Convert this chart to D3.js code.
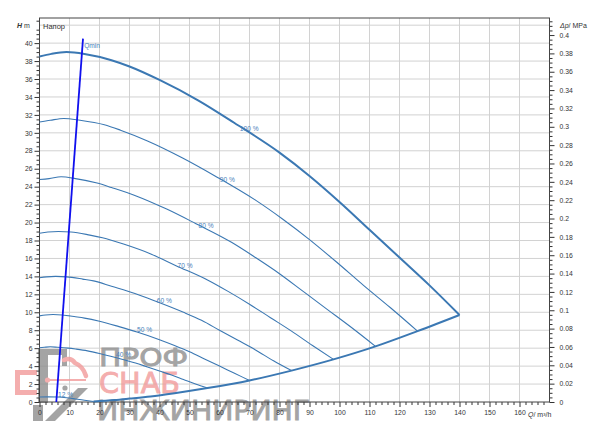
<!DOCTYPE html>
<html>
<head>
<meta charset="utf-8">
<script src="https://cdn.jsdelivr.net/npm/d3@7"></script>
<style>
  body { margin: 0; background: #fff; }
  svg { display: block; font-family: "Liberation Sans", Arial, sans-serif; }
</style>
</head>
<body>
<svg width="600" height="440"></svg>
<script>
// pump curves, Q in m3/h, H in m
const speedLabels = ['100 %', '90 %', '80 %', '70 %', '60 %', '50 %', '40 %', '12 %'];
const curve100 = [[0,38.5],[4,38.8],[9,39.0],[15,38.8],[24,38.1],[30,37.4],[40,35.9],[53,33.6],[65,31.1],[80,27.8],[90,25.2],[100,22.3],[110,19.2],[120,16.1],[130,13.0],[140,9.7]];
const curve90 = [[0,31.2],[3.6,31.4],[8.1,31.6],[13.5,31.4],[21.6,30.9],[27,30.3],[36,29.1],[47.7,27.2],[58.5,25.2],[72,22.5],[81,20.4],[90,18.1],[99,15.6],[108,13.0],[117,10.5],[126,7.9]];
const curve80 = [[0,24.8],[3.2,24.9],[7.2,25.1],[12,24.9],[19.2,24.4],[24,23.9],[32,23.0],[42.4,21.5],[52,19.9],[64,17.8],[72,16.1],[80,14.3],[88,12.3],[96,10.3],[104,8.3],[112,6.2]];
const curve70 = [[0,18.8],[2.8,18.95],[6.3,19.0],[10.5,18.95],[16.8,18.6],[21,18.3],[28,17.6],[37.1,16.5],[45.5,15.2],[56,13.6],[63,12.3],[70,10.9],[77,9.4],[84,7.9],[91,6.3],[98,4.75]];
const curve60 = [[0,13.85],[2.4,13.95],[5.4,14.0],[9,13.95],[14.4,13.7],[18,13.5],[24,12.9],[31.8,12.1],[39,11.2],[48,10.0],[54,9.1],[60,8.0],[66,6.9],[72,5.8],[78,4.6],[84,3.5]];
const curve50 = [[0,9.6],[2,9.7],[4.5,9.75],[7.5,9.7],[12,9.5],[15,9.35],[20,9.0],[26.5,8.4],[32.5,7.8],[40,6.95],[45,6.3],[50,5.6],[55,4.8],[60,4.0],[65,3.2],[70,2.4]];
const curve40 = [[0,6.05],[1.6,6.1],[3.6,6.15],[6,6.1],[9.6,6.0],[12,5.9],[16,5.7],[21.2,5.3],[26,4.9],[32,4.35],[36,3.9],[40,3.45],[44,3.0],[48,2.5],[52,2.0],[56,1.55]];
const curve12 = [[0,0.56],[3,0.57],[6,0.55],[9,0.47],[12,0.34],[15,0.2],[18,0.06]];
const boundary = [[18,0.06],[25,0.22],[30,0.38],[37,0.62],[45,0.98],[56,1.55],[70,2.4],[84,3.5],[98,4.75],[112,6.2],[126,7.9],[140,9.7]];
const qminLine = [[5.6,0],[14.5,40.5]];
// label anchors [Q, H]
const labelPos = [[69.9,30.5],[62.6,24.75],[55.5,19.65],[48.5,15.2],[41.6,11.26],[35.0,8.03],[28.0,5.24],[8.7,0.86]];

const xTicks = d3.range(0, 161, 10);
const yTicks = d3.range(0, 41, 2);
const pTicks = d3.range(0, 0.401, 0.02);

const svg = d3.select('svg');
const plotLeft = 39.5, plotRight = 549.5, plotTop = 18, plotBottom = 402;

const x = d3.scaleLinear().domain([0, 170]).range([plotLeft, plotRight]);
const y = d3.scaleLinear().domain([0, 42.8]).range([plotBottom, plotTop]);
const yp = d3.scaleLinear().domain([0, 42.8 * 0.00978]).range([plotBottom, plotTop]);

// grid
const grid = svg.append('g').attr('stroke', '#d2d2d2').attr('stroke-width', 1);
grid.selectAll('.gx').data(d3.range(10, 161, 10)).enter().append('line')
  .attr('x1', d => x(d)).attr('x2', d => x(d)).attr('y1', plotTop).attr('y2', plotBottom);
grid.selectAll('.gy').data(d3.range(2, 43, 2)).enter().append('line')
  .attr('y1', d => y(d)).attr('y2', d => y(d)).attr('x1', plotLeft).attr('x2', plotRight);

// watermark
const wm = svg.append('g').attr('opacity', 0.8);
const gray = '#8e8e8e', red = '#f29a9a';
wm.append('path').attr('fill', gray).attr('d', 'M38,349H67V366H62V355H48V403H38Z');
wm.append('path').attr('fill', 'none').attr('stroke', red).attr('stroke-width', 5)
  .attr('d', 'M37,372.5H17.5V392.5H37');
wm.append('path').attr('fill', 'none').attr('stroke', red).attr('stroke-width', 4.5)
  .attr('stroke-linecap', 'round')
  .attr('d', 'M64,360Q71,357 75,363Q83,366 86,376');
wm.append('line').attr('stroke', red).attr('stroke-width', 2).attr('x1', 48).attr('x2', 86).attr('y1', 380).attr('y2', 380);
wm.append('circle').attr('fill', red).attr('cx', 47.5).attr('cy', 380).attr('r', 2.6);
wm.append('circle').attr('fill', gray).attr('cx', 65).attr('cy', 388).attr('r', 2.6);
wm.append('path').attr('fill', gray).attr('d', 'M33,405H43V421H33Z M45,421L78,388H88L55,421Z');
function wmText(tx, ty, size, len, color, str) {
  wm.append('text').attr('x', tx).attr('y', ty).attr('fill', color)
    .attr('stroke', color).attr('stroke-width', 0.9)
    .style('font', `${size}px "DejaVu Sans"`)
    .attr('textLength', len).attr('lengthAdjust', 'spacingAndGlyphs').text(str);
}
wmText(99, 366, 25, 89, gray, 'ПРОФ');
wmText(99, 393, 28, 81, red, 'СНАБ');
wmText(97, 420, 27, 213, gray, 'ИНЖИНИРИНГ');

// axes
function styleAxis(g) {
  g.select('.domain').remove();
  g.selectAll('line').attr('stroke', '#333');
  g.selectAll('text').attr('fill', '#333').style('font-size', '6.8px');
}
const minor = (lo, hi, step, majorStep) => d3.range(lo, hi + step / 2, step)
  .filter(v => Math.abs(v / majorStep - Math.round(v / majorStep)) > 1e-6);

svg.append('g').attr('transform', `translate(${plotLeft},0)`)
  .call(d3.axisLeft(y).tickValues(yTicks).tickSize(5).tickPadding(2)).call(styleAxis);
svg.append('g').attr('transform', `translate(${plotLeft},0)`)
  .call(d3.axisLeft(y).tickValues(minor(0, 42.5, 0.5, 2)).tickSize(3).tickFormat('')).call(styleAxis);

svg.append('g').attr('transform', `translate(0,${plotBottom})`)
  .call(d3.axisBottom(x).tickValues(xTicks).tickSize(5).tickPadding(3)).call(styleAxis);
svg.append('g').attr('transform', `translate(0,${plotBottom})`)
  .call(d3.axisBottom(x).tickValues(minor(0, 170, 2, 10)).tickSize(3).tickFormat('')).call(styleAxis);

svg.append('g').attr('transform', `translate(${plotRight},0)`)
  .call(d3.axisRight(yp).tickValues(pTicks).tickSize(5).tickPadding(5).tickFormat(d => +d.toFixed(2))).call(styleAxis);
svg.append('g').attr('transform', `translate(${plotRight},0)`)
  .call(d3.axisRight(yp).tickValues(minor(0, 0.415, 0.005, 0.02)).tickSize(3).tickFormat('')).call(styleAxis);

// frame
svg.append('rect').attr('x', plotLeft).attr('y', plotTop).attr('width', plotRight - plotLeft).attr('height', plotBottom - plotTop)
  .attr('fill', 'none').attr('stroke', '#444').attr('stroke-width', 1);

// axis titles
const t1 = svg.append('text').attr('x', 17).attr('y', 27.5).attr('fill', '#333').style('font-size', '7px');
t1.append('tspan').style('font-weight', 'bold').style('font-style', 'italic').text('H');
t1.append('tspan').text(' m');
const t2 = svg.append('text').attr('x', 560).attr('y', 27.5).attr('fill', '#333').style('font-size', '7px');
t2.append('tspan').style('font-style', 'italic').text('Δp');
t2.append('tspan').text('/ MPa');
const t3 = svg.append('text').attr('x', 528).attr('y', 416.5).attr('fill', '#333').style('font-size', '7px');
t3.append('tspan').style('font-style', 'italic').text('Q');
t3.append('tspan').text('/ m³/h');
svg.append('text').attr('x', 43).attr('y', 29).attr('fill', '#333').style('font-size', '7.5px').text('Напор');

// curves
const line = d3.line().x(d => x(d[0])).y(d => y(d[1])).curve(d3.curveMonotoneX);
const curves = [curve100, curve90, curve80, curve70, curve60, curve50, curve40, curve12];
const blue = '#3b78b3';
svg.append('g').selectAll('path').data(curves).enter().append('path')
  .attr('d', line).attr('fill', 'none').attr('stroke', blue)
  .attr('stroke-width', (d, i) => i === 0 ? 2 : 1.1);
svg.append('path').datum(boundary).attr('d', line).attr('fill', 'none')
  .attr('stroke', blue).attr('stroke-width', 2);
svg.append('path').datum(qminLine).attr('d', d3.line().x(d => x(d[0])).y(d => y(d[1])))
  .attr('fill', 'none').attr('stroke', '#1010ee').attr('stroke-width', 1.8);

svg.append('g').selectAll('text').data(labelPos).enter().append('text')
  .attr('x', d => x(d[0])).attr('y', d => y(d[1]) + 2.4)
  .attr('text-anchor', 'middle').attr('fill', '#4a82bb').style('font-size', '6.6px')
  .text((d, i) => speedLabels[i]);
svg.append('text').attr('x', x(14.9)).attr('y', y(39.7) + 2.4)
  .attr('fill', '#4a82bb').style('font-size', '6.6px').text('Qmin');
</script>
</body>
</html>
